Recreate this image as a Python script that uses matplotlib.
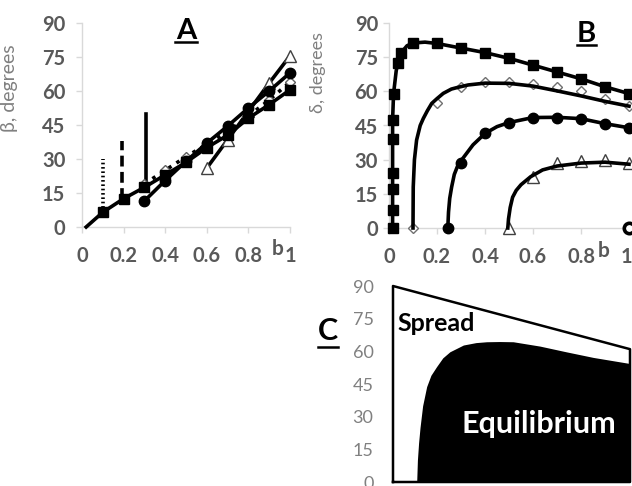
import matplotlib
matplotlib.use("Agg")
from matplotlib import pyplot as plt
from matplotlib.lines import Line2D
from matplotlib.transforms import ScaledTranslation

plt.rcParams['font.family'] = ['Lato', 'DejaVu Sans']

# ---- panel A: beta vs b ----
a_sq_b = [0.02, 0.1, 0.2, 0.3, 0.4, 0.5, 0.6, 0.7, 0.8, 0.9, 1.0]
a_sq_v = [0, 6.5, 12.5, 17.5, 23, 28.5, 35, 40.5, 48, 54, 60.5]
a_di_b = [0.3, 0.4, 0.5, 0.6, 0.7, 0.8, 0.9, 1.0]
a_di_v = [19, 25, 31, 36.5, 42, 49, 56, 64]
a_ci_b = [0.3, 0.4, 0.5, 0.6, 0.7, 0.8, 0.9, 1.0]
a_ci_v = [11.5, 20.5, 29, 37, 44.5, 52.5, 60, 68]
a_tr_b = [0.6, 0.7, 0.8, 0.9, 1.0]
a_tr_v = [26, 38.5, 51, 63.5, 75.5]
# vertical markers in A
vl_b = [0.1, 0.19, 0.31]
vl_lo = [6.5, 12.5, 17.5]
vl_hi = [30, 38, 50]
vl_style = [(0, (0.45, 0.75)), (0, (3, 1.5)), '-']

# ---- panel B: delta vs b ----
b_sq_b = [0.015, 0.015, 0.015, 0.015, 0.015, 0.015, 0.019, 0.037, 0.051,
          0.1, 0.2, 0.3, 0.4, 0.5, 0.6, 0.7, 0.8, 0.9, 1.0]
b_sq_v = [0, 8, 17, 24, 39, 47.5, 59, 72.5, 77,
          81, 81, 79, 77, 74.5, 71.5, 68.5, 65.5, 62, 59]
b_sqline_b = [0.015, 0.015, 0.019, 0.03, 0.037, 0.051, 0.075, 0.1, 0.15,
              0.2, 0.3, 0.4, 0.5, 0.6, 0.7, 0.8, 0.9, 1.0]
b_sqline_v = [0, 47.5, 59, 69, 72.5, 77, 80, 81.2, 81.6,
              81, 79, 77, 74.5, 71.5, 68.5, 65.5, 62, 59]

b_di_b = [0.1, 0.2, 0.3, 0.4, 0.5, 0.6, 0.7, 0.8, 0.9, 1.0]
b_di_v = [0, 55, 62, 64, 64, 63, 61.8, 60, 56.8, 53.6]
b_diline_b = [0.1, 0.101, 0.106, 0.115, 0.13, 0.143, 0.16, 0.178, 0.2, 0.226,
              0.26, 0.289, 0.33, 0.4, 0.5, 0.6, 0.7, 0.8, 0.9, 1.0]
b_diline_v = [0, 18, 30, 38.6, 45, 48.1, 51.5, 54.7, 56.8, 59.1,
              61, 61.8, 62.8, 63.6, 63.5, 62.3, 60.2, 58, 55.6, 53.5]

b_ci_b = [0.245, 0.3, 0.4, 0.5, 0.6, 0.7, 0.8, 0.9, 1.0]
b_ci_v = [0, 28.5, 41.5, 46.3, 48.5, 48.5, 48, 45.8, 44]
b_ciline_b = [0.245, 0.248, 0.253, 0.261, 0.272, 0.285, 0.3, 0.35, 0.4,
              0.45, 0.5, 0.6, 0.7, 0.8, 0.9, 1.0]
b_ciline_v = [0, 7, 13, 18, 23.5, 27, 29.5, 36.5, 41.5,
              44.5, 46.3, 48.5, 48.6, 48, 45.8, 44]

b_tr_b = [0.5, 0.6, 0.7, 0.8, 0.9, 1.0]
b_tr_v = [0, 22.4, 28.5, 29.3, 29.9, 28.5]
b_trline_b = [0.495, 0.498, 0.505, 0.515, 0.53, 0.55, 0.59, 0.64, 0.7, 0.8, 0.9, 1.0]
b_trline_v = [0, 4, 9, 13.5, 16.5, 19, 22.5, 25.5, 27.2, 28.5, 28.9, 28]

b_open_b = [1.0]
b_open_v = [0]

# ---- panel C: regions ----
spread_b = [0, 0, 1, 1, 0]
spread_v = [0, 90, 61, 0, 0]
eq_b = [0.1, 0.103, 0.108, 0.114, 0.125, 0.142, 0.16, 0.184, 0.21, 0.24,
        0.297, 0.35, 0.395, 0.45, 0.507, 0.62, 0.73, 0.845, 1.0]
eq_v = [0, 10, 18, 25, 35, 43.8, 49, 53, 57, 59.8,
        62.9, 64, 64.4, 64.5, 64.4, 62.4, 59.8, 57.2, 54.4]

y_ticks = [0, 15, 30, 45, 60, 75, 90]
x_ticks = [0, 0.2, 0.4, 0.6, 0.8, 1.0]
x_labels = ['0', '0.2', '0.4', '0.6', '0.8', '1']

TICK_GREY = '#595959'
AXIS_GREY = '#d9d9d9'
LW = 2.6
TICK_SIZE = 14.5


def styleAxes(ax, ypad):
    ax.set_xlim(0, 1)
    ax.set_ylim(0, 90)
    ax.set_xticks(x_ticks)
    ax.set_xticklabels(x_labels)
    ax.set_yticks(y_ticks)
    for side in ['top', 'right']:
        ax.spines[side].set_visible(False)
    for side in ['left', 'bottom']:
        ax.spines[side].set_color(AXIS_GREY)
        ax.spines[side].set_linewidth(1.0)
    ax.tick_params(axis='both', direction='out', length=4, width=1.0,
                   color=AXIS_GREY, labelcolor=TICK_GREY)
    ax.tick_params(axis='x', pad=10, labelsize=TICK_SIZE)
    ax.tick_params(axis='y', pad=ypad, labelsize=TICK_SIZE)
    for lab in ax.get_xticklabels() + ax.get_yticklabels():
        lab.set_fontweight('bold')


fig = plt.figure(figsize=(6.32, 4.86), dpi=100)
W, H = 632.0, 486.0

# panel A
axA = fig.add_axes([82 / W, 1 - 227 / H, 208 / W, 204 / H])
styleAxes(axA, 8)
for b, lo, hi, ls in zip(vl_b, vl_lo, vl_hi, vl_style):
    axA.plot([b, b], [lo, hi], color='black', lw=LW, ls=ls,
             dash_capstyle='butt', zorder=3)
axA.plot(a_tr_b, a_tr_v, color='black', lw=LW, marker='^', ms=8,
         mfc='white', mec='#404040', mew=1.0, clip_on=False, zorder=3)
axA.plot(a_di_b, a_di_v, color='black', lw=LW, ls=':', marker='D', ms=5.5,
         mfc='white', mec='#606060', mew=1.0, clip_on=False, zorder=4)
axA.plot(a_sq_b, a_sq_v, color='black', lw=LW, marker='s', ms=7,
         markevery=list(range(1, len(a_sq_b))), clip_on=False, zorder=5)
axA.plot(a_ci_b, a_ci_v, color='black', lw=LW, marker='o', ms=7.5,
         clip_on=False, zorder=5)
axA.set_ylabel('β, degrees', fontsize=14, color='#808080')
axA.yaxis.set_label_coords(-0.31, 0.68)
axA.text(0.94, -0.11, 'b', transform=axA.transAxes, fontsize=15,
         fontweight='bold', color=TICK_GREY, ha='center', va='center')

# panel B
axB = fig.add_axes([389 / W, 1 - 228 / H, 240 / W, 205 / H])
styleAxes(axB, 4)
last = axB.get_xticklabels()[-1]
last.set_transform(last.get_transform() + ScaledTranslation(-3 / 100, 0, fig.dpi_scale_trans))
axB.plot(b_sqline_b, b_sqline_v, color='black', lw=LW, clip_on=False, zorder=3)
axB.plot(b_sq_b, b_sq_v, ls='none', marker='s', ms=7, color='black',
         clip_on=False, zorder=4)
axB.plot(b_di_b, b_di_v, ls='none', marker='D', ms=5.5, mfc='white',
         mec='#707070', mew=1.0, clip_on=False, zorder=3)
axB.plot(b_diline_b, b_diline_v, color='black', lw=LW, clip_on=False, zorder=4)
axB.plot(b_ciline_b, b_ciline_v, color='black', lw=LW, clip_on=False, zorder=3)
axB.plot(b_ci_b, b_ci_v, ls='none', marker='o', ms=7.5, color='black',
         clip_on=False, zorder=4)
axB.plot(b_trline_b, b_trline_v, color='black', lw=LW, clip_on=False, zorder=4)
axB.plot(b_tr_b, b_tr_v, ls='none', marker='^', ms=8, mfc='white',
         mec='#404040', mew=1.0, clip_on=False, zorder=3)
axB.plot(b_open_b, b_open_v, ls='none', marker='o', ms=7.5, mfc='white',
         mec='black', mew=2.6, clip_on=False, zorder=5)
axB.set_ylabel('δ, degrees', fontsize=13, color='#808080')
axB.yaxis.set_label_coords(-0.2625, 0.76)
axB.text(0.896, -0.112, 'b', transform=axB.transAxes, fontsize=15,
         fontweight='bold', color=TICK_GREY, ha='center', va='center')

# panel C
axC = fig.add_axes([393 / W, 1 - 482 / H, 237 / W, 196 / H])
axC.set_xlim(0, 1)
axC.set_ylim(0, 90)
axC.set_yticks(y_ticks)
axC.set_xticks([])
for side in axC.spines:
    axC.spines[side].set_visible(False)
axC.tick_params(axis='y', length=0, pad=14, labelsize=13,
                labelcolor='#808080')
axC.fill_between(eq_b, eq_v, 0, color='black', lw=0, zorder=2)
axC.plot(spread_b, spread_v, color='black', lw=1.8, clip_on=False, zorder=3)
axC.text(0.02, 69.5, 'Spread', fontsize=18, fontweight='bold',
         color='black', ha='left', va='baseline')
axC.text(0.29, 22.6, 'Equilibrium', fontsize=22, fontweight='bold',
         color='white', ha='left', va='baseline', zorder=4)

# panel letters, underlined
for letter, cx, base, x0, x1, uy, size in [('A', 186, 39, 175, 197, 42, 21),
                                           ('B', 586.5, 42, 577, 596, 45, 21),
                                           ('C', 328, 340, 318, 338, 347, 22)]:
    fig.text(cx / W, 1 - base / H, letter, fontsize=size, fontweight='bold',
             ha='center', va='baseline', color='black')
    fig.add_artist(Line2D([x0 / W, x1 / W], [1 - uy / H, 1 - uy / H],
                          color='black', lw=1.8, transform=fig.transFigure))

fig.savefig('out.png', dpi=100)
